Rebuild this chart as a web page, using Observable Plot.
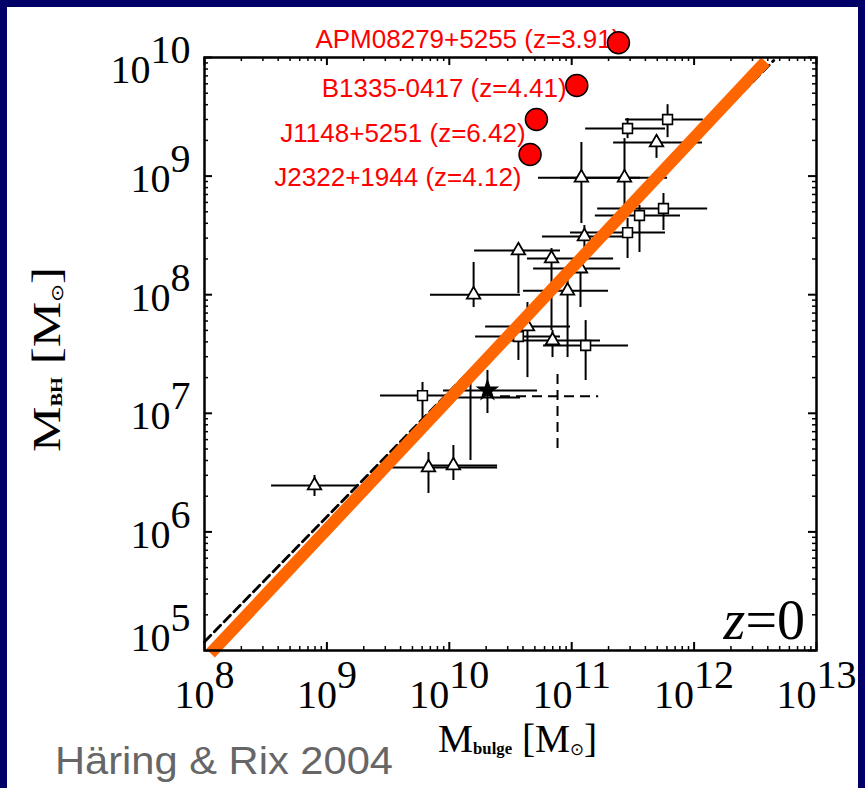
<!DOCTYPE html>
<html><head><meta charset="utf-8">
<script src="https://cdn.jsdelivr.net/npm/d3@7"></script>
<script src="https://cdn.jsdelivr.net/npm/@observablehq/plot@0.6"></script>
<style>
html,body{margin:0;padding:0;background:#000066;width:865px;height:788px;overflow:hidden}
#panel{position:absolute;left:7px;top:7px;width:851px;height:781px;background:#fff;overflow:hidden}
</style></head>
<body><div id="panel"></div>
<script>
// ---- local galaxies (Häring & Rix 2004) ----
const galMbulge   = [6.07e11, 2.86e11, 4.93e11, 1.20e11, 2.70e11, 5.62e11, 3.58e11, 2.86e11, 1.27e11, 3.67e10, 6.84e10, 1.18e11, 1.58e10, 9.25e10, 4.35e10, 3.67e10, 6.97e10, 1.30e11, 6.04e9, 2.05e10, 1.49e10, 7.66e10, 6.76e9, 1.08e10, 7.92e8];
const galMbulgeLo = [2.75e11, 1.30e11, 2.20e11, 5.36e10, 8.1e10, 1.63e11, 1.56e11, 9.78e10, 5.77e10, 1.61e10, 4.35e10, 4.88e10, 7.02e9, 4.04e10, 1.98e10, 1.64e10, 3.16e10, 5.89e10, 2.74e9, 8.97e9, 9.85e9, 2.62e10, 3.44e9, 7.02e9, 3.53e8];
const galMbulgeHi = [1.19e12, 5.84e11, 1.17e12, 3.65e11, 6.07e11, 1.29e12, 7.74e11, 5.84e11, 3.20e11, 8.10e10, 2.20e11, 2.51e11, 3.82e10, 2.0e11, 9.78e10, 8.10e10, 1.72e11, 2.91e11, 1.08e10, 5.26e10, 3.82e10, 1.66e11, 2.48e10, 2.48e10, 1.81e9];
const galMbh      = [3.0e9, 2.52e9, 1.92e9, 9.7e8, 9.7e8, 5.33e8, 4.65e8, 3.34e8, 3.10e8, 2.36e8, 2.02e8, 1.66e8, 1.0e8, 1.08e8, 5.39e7, 4.44e7, 4.11e7, 3.73e7, 1.41e7, 1.56e7, 1.36e7, 1.39e7, 3.49e6, 3.63e6, 2.46e6];
const galMbhLo    = [2.11e9, 2.07e9, 1.41e9, 3.98e8, 4.65e8, 3.48e8, 2.27e8, 2.02e8, 1.87e8, 1.02e8, 4.99e7, 7.8e7, 7.8e7, 2.95e7, 2.0e7, 2.79e7, 2.95e7, 1.89e7, 9.04e6, 9.96e6, 4.0e6, 5.05e6, 2.11e6, 2.71e6, 1.99e6];
const galMbhHi    = [4.0e9, 3.06e9, 2.20e9, 1.92e9, 2.07e9, 7.13e8, 5.65e8, 4.39e8, 3.83e8, 2.70e8, 2.45e8, 1.87e8, 1.87e8, 1.40e8, 8.6e7, 5.5e7, 4.99e7, 6.05e7, 1.82e7, 2.30e7, 1.82e7, 2.30e7, 4.67e6, 5.35e6, 2.99e6];
const galType     = ["square","square","triangle","triangle","triangle","square","square","square","triangle","triangle","triangle","triangle","triangle","triangle","triangle","square","triangle","square","square","filled","none","dashed","triangle","triangle","triangle"];

// ---- high-z quasars ----
const qsoNames = ["APM08279+5255", "B1335-0417", "J1148+5251", "J2322+1944"];
const qsoZ = ["3.91", "4.41", "6.42", "4.12"];
const qsoMbulge = [2.41e11, 1.10e11, 5.15e10, 4.57e10];
const qsoMbh = [1.33e10, 5.8e9, 3.0e9, 1.52e9];
const qsoLabelMbulge = [2.5e11, 9.1e10, 4.2e10, 3.89e10];
const qsoLabelMbh = [1.42e10, 5.42e9, 2.26e9, 9.64e8];

// ---- relations ----
const fitMbulge = [1.12e8, 3.83e12];
const fitMbh = [9.44e4, 9.25e9];
const dashMbulge = [1.0e8, 4.47e12];
const dashMbh = [1.186e5, 9.44e9];

// ---- axis ticks ----
const xTicks = [1e8, 1e9, 1e10, 1e11, 1e12, 1e13];
const yTicks = [1e5, 1e6, 1e7, 1e8, 1e9, 1e10];
const xMinor = d3.range(8, 13).flatMap(e => d3.range(2, 10).map(m => m * 10 ** e));
const yMinor = d3.range(5, 10).flatMap(e => d3.range(2, 10).map(m => m * 10 ** e));

const gal = galMbulge.map((mb, i) => ({mb, lo: galMbulgeLo[i], hi: galMbulgeHi[i], mbh: galMbh[i], ylo: galMbhLo[i], yhi: galMbhHi[i], type: galType[i]}));
const qso = qsoNames.map((n, i) => ({label: `${n} (z=${qsoZ[i]})`, mb: qsoMbulge[i], mbh: qsoMbh[i], lx: qsoLabelMbulge[i], ly: qsoLabelMbh[i]}));
const fit = fitMbulge.map((x, i) => ({x, y: fitMbh[i]}));
const dash = dashMbulge.map((x, i) => ({x, y: dashMbh[i]}));

const W = 851, H = 781, ML = 197, MR = 42, MT = 50, MB = 138;
const IW = W - ML - MR, IH = H - MT - MB;
const serif = "Liberation Serif, Times New Roman, serif";
const sans = "Liberation Sans, Arial, sans-serif";
const fmt = d => "10^" + Math.round(Math.log10(d));
const solid = gal.filter(d => d.type !== "dashed");
const dashed = gal.filter(d => d.type === "dashed");

const plot = Plot.plot({
  width: W, height: H, marginLeft: ML, marginRight: MR, marginTop: MT, marginBottom: MB,
  x: {type: "log", domain: [1e8, 1e13]},
  y: {type: "log", domain: [1e5, 1e10]},
  style: {background: "transparent", overflow: "visible"},
  marks: [
    // ticks inward on all four sides
    Plot.tickX(xTicks, {x: d => d, insetTop: IH - 8, stroke: "black", strokeWidth: 2}),
    Plot.tickX(xTicks, {x: d => d, insetBottom: IH - 8, stroke: "black", strokeWidth: 2}),
    Plot.tickX(xMinor, {x: d => d, insetTop: IH - 4, stroke: "black", strokeWidth: 1.5}),
    Plot.tickX(xMinor, {x: d => d, insetBottom: IH - 4, stroke: "black", strokeWidth: 1.5}),
    Plot.tickY(yTicks, {y: d => d, insetRight: IW - 8, stroke: "black", strokeWidth: 2}),
    Plot.tickY(yTicks, {y: d => d, insetLeft: IW - 8, stroke: "black", strokeWidth: 2}),
    Plot.tickY(yMinor, {y: d => d, insetRight: IW - 4, stroke: "black", strokeWidth: 1.5}),
    Plot.tickY(yMinor, {y: d => d, insetLeft: IW - 4, stroke: "black", strokeWidth: 1.5}),
    Plot.axisX(xTicks, {anchor: "bottom", tickSize: 0, tickPadding: 29, tickFormat: fmt, fontSize: 40, fontFamily: serif, label: null}),
    Plot.axisY(yTicks.slice(1, 5), {anchor: "left", tickSize: 0, tickPadding: 14, dy: 3, tickFormat: fmt, fontSize: 40, fontFamily: serif, label: null}),
    Plot.axisY([yTicks[5]], {anchor: "left", tickSize: 0, tickPadding: 14, dy: 13, tickFormat: fmt, fontSize: 40, fontFamily: serif, label: null}),
    Plot.axisY([yTicks[0]], {anchor: "left", tickSize: 0, tickPadding: 14, dy: -12, tickFormat: fmt, fontSize: 40, fontFamily: serif, label: null}),
    // error bars
    Plot.ruleY(solid, {y: "mbh", x1: "lo", x2: "hi", stroke: "black", strokeWidth: 2}),
    Plot.ruleX(solid, {x: "mb", y1: "ylo", y2: "yhi", stroke: "black", strokeWidth: 2}),
    Plot.ruleY(dashed, {y: "mbh", x1: "lo", x2: "hi", stroke: "black", strokeWidth: 2, strokeDasharray: "10,6"}),
    Plot.ruleX(dashed, {x: "mb", y1: "ylo", y2: "yhi", stroke: "black", strokeWidth: 2, strokeDasharray: "10,6"}),
    // symbols
    Plot.dot(gal.filter(d => d.type === "triangle"), {x: "mb", y: "mbh", symbol: "triangle", r: 5, fill: "white", stroke: "black", strokeWidth: 1.8}),
    Plot.dot(gal.filter(d => d.type === "square"), {x: "mb", y: "mbh", symbol: "square", r: 5.5, fill: "white", stroke: "black", strokeWidth: 1.6}),
    Plot.dot(gal.filter(d => d.type === "filled"), {x: "mb", y: "mbh", symbol: "star", r: 6, fill: "black", stroke: "black"}),
    // relations
    Plot.line(dash, {x: "x", y: "y", stroke: "black", strokeWidth: 2.8, strokeDasharray: "9,5"}),
    Plot.line(fit, {x: "x", y: "y", stroke: "#ff6600", strokeWidth: 12, strokeLinecap: "butt"}),
    Plot.frame({stroke: "black", strokeWidth: 2.5}),
    // quasars
    Plot.text(qso, {x: "lx", y: "ly", text: "label", textAnchor: "end", fill: "#ff0000", fontSize: 26, fontFamily: sans, ariaLabel: "qso label"}),
    Plot.dot(qso, {x: "mb", y: "mbh", r: 11, fill: "#ff0000", stroke: "black", strokeWidth: 1.5})
  ]
});

document.getElementById("panel").appendChild(plot);
const svg = d3.select(plot);

// superscript exponents on tick labels
svg.selectAll('g[aria-label="x-axis tick label"] text, g[aria-label="y-axis tick label"] text').each(function () {
  const s = this.textContent;
  if (!s.includes("^")) return;
  const [b, e] = s.split("^");
  this.textContent = "";
  const t = d3.select(this);
  t.append("tspan").text(b);
  t.append("tspan").attr("dy", -20).text(e);
});

// italic z in quasar labels
svg.selectAll('g[aria-label="qso label"] text').each(function () {
  const s = this.textContent;
  const i = s.indexOf("(z=");
  if (i < 0) return;
  this.textContent = "";
  const t = d3.select(this);
  t.append("tspan").text(s.slice(0, i + 1));
  t.append("tspan").attr("font-style", "italic").text("z");
  t.append("tspan").text(s.slice(i + 2));
});

// z=0 tag
const zt = svg.append("text").attr("x", ML + IW - 11).attr("y", MT + IH - 11)
  .attr("text-anchor", "end").attr("font-family", serif).attr("font-size", 56).attr("fill", "black");
zt.append("tspan").attr("font-style", "italic").text("z");
zt.append("tspan").text("=0");

// x-axis title
const xt = svg.append("text").attr("x", 431).attr("y", 745).attr("text-anchor", "start").attr("font-family", serif).attr("font-size", 40)
  .attr("fill", "black").attr("textLength", 159).attr("lengthAdjust", "spacingAndGlyphs");
xt.append("tspan").text("M");
xt.append("tspan").attr("font-size", 17).attr("font-weight", "bold").attr("dy", 2).text("bulge");
xt.append("tspan").attr("dy", -2).text(" [M");
xt.append("tspan").attr("font-size", 17).attr("dy", 3).text("\u2299");
xt.append("tspan").attr("dy", -3).text("]");

// y-axis title
const yt = svg.append("text").attr("transform", "translate(53,445) rotate(-90)").attr("text-anchor", "start").attr("font-family", serif).attr("font-size", 40)
  .attr("fill", "black").attr("textLength", 185).attr("lengthAdjust", "spacingAndGlyphs");
yt.append("tspan").text("M");
yt.append("tspan").attr("font-size", 16).attr("font-weight", "bold").attr("dy", 2).text("BH");
yt.append("tspan").attr("dy", -2).text(" [M");
yt.append("tspan").attr("font-size", 17).attr("dy", 3).text("\u2299");
yt.append("tspan").attr("dy", -3).text("]");

// caption
svg.append("text").attr("x", 48).attr("y", 767).attr("text-anchor", "start").attr("font-family", sans).attr("font-size", 38)
  .attr("fill", "#666666").attr("textLength", 338).attr("lengthAdjust", "spacingAndGlyphs").text("Häring & Rix 2004");
</script>
</body></html>
